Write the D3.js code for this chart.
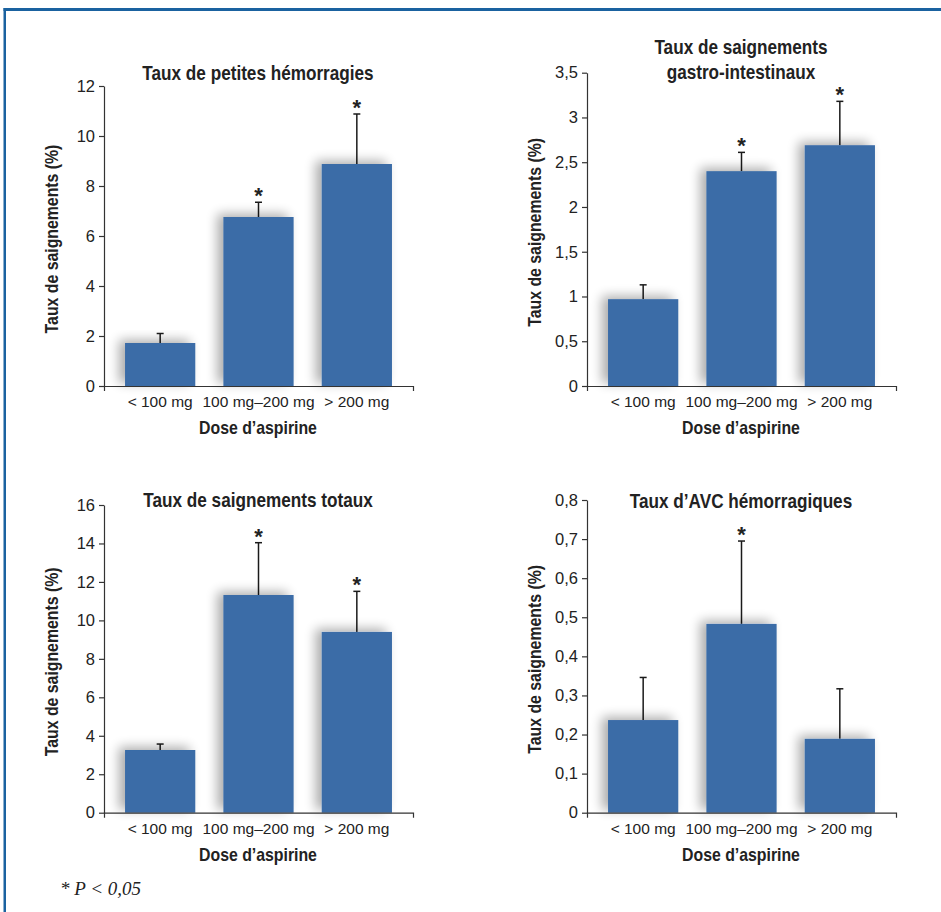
<!DOCTYPE html>
<html>
<head>
<meta charset="utf-8">
<script src="https://cdn.jsdelivr.net/npm/d3@7"></script>
<style>
  body { margin: 0; background: #fff; }
  svg { display: block; }
  .tick text { font-family: "Liberation Sans", Arial, sans-serif; fill: #222; }
  .title, .axis-title { font-family: "Liberation Sans", Arial, sans-serif; font-weight: bold; fill: #222; }
</style>
</head>
<body>
<script>
// doses on the x axis
var doses = ["< 100 mg", "100 mg\u2013200 mg", "> 200 mg"];

// chart 1: petites hémorragies
var minorValues = [1.72, 6.76, 8.88];
var minorErrors = [2.1, 7.35, 10.88];
var minorStars = [false, true, true];
var minorTicks = [0, 2, 4, 6, 8, 10, 12];

// chart 2: saignements gastro-intestinaux
var giValues = [0.97, 2.40, 2.69];
var giErrors = [1.13, 2.61, 3.18];
var giStars = [false, true, true];
var giTicks = [0, 0.5, 1, 1.5, 2, 2.5, 3, 3.5];

// chart 3: saignements totaux
var totalValues = [3.26, 11.32, 9.40];
var totalErrors = [3.57, 14.04, 11.51];
var totalStars = [false, true, true];
var totalTicks = [0, 2, 4, 6, 8, 10, 12, 14, 16];

// chart 4: AVC hémorragiques
var strokeValues = [0.237, 0.483, 0.189];
var strokeErrors = [0.346, 0.695, 0.317];
var strokeStars = [false, true, false];
var strokeTicks = [0, 0.1, 0.2, 0.3, 0.4, 0.5, 0.6, 0.7, 0.8];

var width = 941;
var height = 912;
var barColor = "#3a6ca7";
var squeeze = 0.88; // fake condensed face

var fr = d3.formatLocale({decimal: ",", thousands: " ", grouping: [3], currency: ["", " €"]});
var fmt = fr.format("~g");

var svg = d3.select("body").append("svg")
    .attr("width", width)
    .attr("height", height);

// soft shadow behind the bars
var defs = svg.append("defs");
var filter = defs.append("filter").attr("id", "shadow")
    .attr("x", "-40%").attr("y", "-30%").attr("width", "170%").attr("height", "160%");
filter.append("feGaussianBlur").attr("in", "SourceAlpha").attr("stdDeviation", 6).attr("result", "blur");
filter.append("feOffset").attr("in", "blur").attr("dx", -6).attr("dy", -3).attr("result", "off");
filter.append("feComponentTransfer").attr("in", "off").attr("result", "soft")
  .append("feFuncA").attr("type", "linear").attr("slope", 0.33);
var merge = filter.append("feMerge");
merge.append("feMergeNode").attr("in", "soft");
merge.append("feMergeNode").attr("in", "SourceGraphic");

// blue frame
svg.append("rect").attr("x", 3.5).attr("y", 8).attr("width", width).attr("height", 3).attr("fill", "#1a62a0");
svg.append("rect").attr("x", 3.5).attr("y", 8).attr("width", 2.5).attr("height", height).attr("fill", "#1a62a0");

function drawChart(opt) {
    var g = svg.append("g");

    var x = d3.scaleBand()
        .domain(doses)
        .range([opt.left, opt.left + 309])
        .paddingInner(0.2857)
        .paddingOuter(0.214);

    var y = d3.scaleLinear()
        .domain([0, opt.ticks[opt.ticks.length - 1]])
        .range([opt.bottom, opt.top]);

    var rows = doses.map(function(d, i) {
        return {dose: d, value: opt.values[i], err: opt.errors[i], star: opt.stars[i]};
    });

    // error bars (drawn first, bars cover the lower part)
    g.selectAll(".err")
        .data(rows)
      .enter().append("line")
        .attr("x1", function(d) { return x(d.dose) + x.bandwidth() / 2; })
        .attr("x2", function(d) { return x(d.dose) + x.bandwidth() / 2; })
        .attr("y1", function(d) { return y(d.value); })
        .attr("y2", function(d) { return y(d.err); })
        .attr("stroke", "#1a1a1a")
        .attr("stroke-width", 1.5);
    g.selectAll(".cap")
        .data(rows)
      .enter().append("line")
        .attr("x1", function(d) { return x(d.dose) + x.bandwidth() / 2 - 3.5; })
        .attr("x2", function(d) { return x(d.dose) + x.bandwidth() / 2 + 3.5; })
        .attr("y1", function(d) { return y(d.err); })
        .attr("y2", function(d) { return y(d.err); })
        .attr("stroke", "#1a1a1a")
        .attr("stroke-width", 1.5);

    g.selectAll(".bar")
        .data(rows)
      .enter().append("rect")
        .attr("class", "bar")
        .attr("x", function(d) { return x(d.dose); })
        .attr("width", x.bandwidth())
        .attr("y", function(d) { return y(d.value); })
        .attr("height", function(d) { return y(0) - y(d.value); })
        .attr("fill", barColor)
        .attr("filter", "url(#shadow)");

    // significance stars
    g.selectAll(".star")
        .data(rows.filter(function(d) { return d.star; }))
      .enter().append("text")
        .attr("x", function(d) { return x(d.dose) + x.bandwidth() / 2; })
        .attr("y", function(d) { return y(d.err) + 1; })
        .attr("text-anchor", "middle")
        .style("font-family", "Liberation Sans, Arial, sans-serif")
        .style("font-weight", "bold")
        .style("font-size", "22px")
        .style("fill", "#222")
        .text("*");

    // axes
    var yAxis = g.append("g")
        .attr("transform", "translate(" + opt.left + ",0)")
        .call(d3.axisLeft(y).tickValues(opt.ticks).tickFormat(fmt).tickSize(5).tickSizeOuter(0).tickPadding(4));
    yAxis.selectAll(".tick text").style("font-size", "16.5px");
    var xAxis = g.append("g")
        .attr("transform", "translate(0," + opt.bottom + ")")
        .call(d3.axisBottom(x).tickSizeInner(0).tickSizeOuter(5).tickPadding(10));
    xAxis.selectAll(".tick text").style("font-size", "15.5px");
    [yAxis, xAxis].forEach(function(a) {
        a.selectAll("path, line").attr("stroke", "#333").attr("stroke-width", 1.2);
    });

    // titles
    var cx = opt.left + 154;
    opt.title.forEach(function(line, i) {
        g.append("text")
            .attr("class", "title")
            .attr("text-anchor", "middle")
            .attr("transform", "translate(" + cx + "," + (opt.titleY + i * 25) + ") scale(" + squeeze + ",1)")
            .style("font-size", "19.5px")
            .text(line);
    });

    g.append("text")
        .attr("class", "axis-title")
        .attr("text-anchor", "middle")
        .attr("transform", "translate(" + cx + "," + (opt.bottom + 48) + ") scale(" + squeeze + ",1)")
        .style("font-size", "18px")
        .text("Dose d\u2019aspirine");

    g.append("text")
        .attr("class", "axis-title")
        .attr("text-anchor", "middle")
        .attr("transform", "translate(" + (opt.left - 46) + "," + ((opt.top + opt.bottom) / 2 + 3) + ") rotate(-90) scale(" + squeeze + ",1)")
        .style("font-size", "18px")
        .text("Taux de saignements (%)");
}

drawChart({left: 104, top: 86, bottom: 386, values: minorValues, errors: minorErrors, stars: minorStars,
    ticks: minorTicks, title: ["Taux de petites h\u00e9morragies"], titleY: 80});
drawChart({left: 587, top: 72.7, bottom: 386, values: giValues, errors: giErrors, stars: giStars,
    ticks: giTicks, title: ["Taux de saignements", "gastro-intestinaux"], titleY: 54});
drawChart({left: 104, top: 505, bottom: 812.7, values: totalValues, errors: totalErrors, stars: totalStars,
    ticks: totalTicks, title: ["Taux de saignements totaux"], titleY: 507});
drawChart({left: 587, top: 500, bottom: 812.7, values: strokeValues, errors: strokeErrors, stars: strokeStars,
    ticks: strokeTicks, title: ["Taux d\u2019AVC h\u00e9morragiques"], titleY: 508});

// footnote
svg.append("text")
    .attr("x", 60)
    .attr("y", 895)
    .style("font-family", "Liberation Serif, DejaVu Serif, serif")
    .style("font-style", "italic")
    .style("font-size", "19px")
    .style("fill", "#222")
    .text("* P < 0,05");
</script>
</body>
</html>
